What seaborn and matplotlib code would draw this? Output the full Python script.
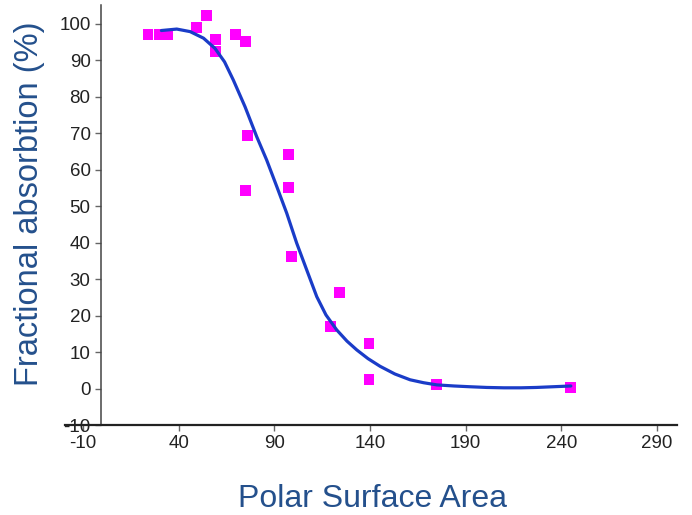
import numpy as np
import pandas as pd
import matplotlib
matplotlib.use("Agg")
import matplotlib.pyplot as plt
import seaborn as sns

# Measured compounds: polar surface area vs. fractional absorption
psa = [24.0, 30.2, 34.4, 49.4, 54.5, 59.4, 59.2, 69.5, 74.8, 75.9, 97.3, 97.3,
       74.8, 99.1, 124.3, 119.5, 139.5, 139.5, 174.9, 244.6]
absorption = [97.0, 97.0, 97.0, 99.0, 102.2, 95.8, 92.4, 97.1, 95.1, 69.3, 64.3, 55.1,
              54.2, 36.1, 26.3, 17.0, 12.3, 2.6, 1.0, 0.3]

# Fitted sigmoidal trend line
fit_psa = [31, 39, 46, 53, 59, 64, 68.6, 74.7, 80.8, 86.0, 91.3, 96.5, 101.7,
           106.9, 112.2, 117, 122.6, 128, 133.1, 139, 145.3, 153, 161, 168, 175,
           184, 192, 201, 210, 219, 227, 236, 245]
fit_abs = [98.2, 98.6, 97.9, 96.1, 93.3, 89.6, 84.6, 77.3, 69.1, 62.7, 55.4, 48.1,
           39.9, 32.6, 25.2, 20.2, 16.1, 13.0, 10.6, 8.2, 6.1, 4.0, 2.4, 1.6, 1.0,
           0.7, 0.5, 0.3, 0.2, 0.2, 0.3, 0.5, 0.7]

x_ticks = [-10, 40, 90, 140, 190, 240, 290]
y_ticks = [-10, 0, 10, 20, 30, 40, 50, 60, 70, 80, 90, 100]

points = pd.DataFrame({"psa": psa, "absorption": absorption})
fit = pd.DataFrame({"psa": fit_psa, "absorption": fit_abs})

sns.set_style("ticks")
plt.rcParams["font.family"] = ["Liberation Sans", "DejaVu Sans"]
plt.rcParams["axes.unicode_minus"] = False

fig = plt.figure(figsize=(6.92, 5.15), dpi=100)
ax = fig.add_axes([65 / 692, 90 / 515, 612 / 692, 420 / 515])

sns.scatterplot(data=points, x="psa", y="absorption", ax=ax, marker="s",
                s=62, color="#ff00ff", edgecolor="none", zorder=2)
sns.lineplot(data=fit, x="psa", y="absorption", ax=ax, sort=False,
             estimator=None, color="#1a3cc8", linewidth=2.3, zorder=3)

ax.set_xlim(-19.4, 300.5)
ax.set_ylim(-10, 105.2)
ax.set_xticks(x_ticks)
ax.set_yticks(y_ticks)

for side in ("top", "right"):
    ax.spines[side].set_visible(False)
ax.spines["left"].set_position(("data", -0.6))
ax.spines["left"].set_color("#444444")
ax.spines["left"].set_linewidth(1.1)
ax.spines["bottom"].set_color("#222222")
ax.spines["bottom"].set_linewidth(1.6)

ax.tick_params(axis="both", labelsize=13.5, labelcolor="#222222",
               color="#666666", length=4, width=1)

label_color = "#24508c"
ax.set_xlabel("Polar Surface Area", fontsize=23, color=label_color)
ax.set_ylabel("Fractional absorbtion (%)", fontsize=23.5, color=label_color)
ax.xaxis.set_label_coords(0.503, -0.140)
ax.yaxis.set_label_coords(-0.032, 0.526)

fig.savefig("out.png", dpi=100)
